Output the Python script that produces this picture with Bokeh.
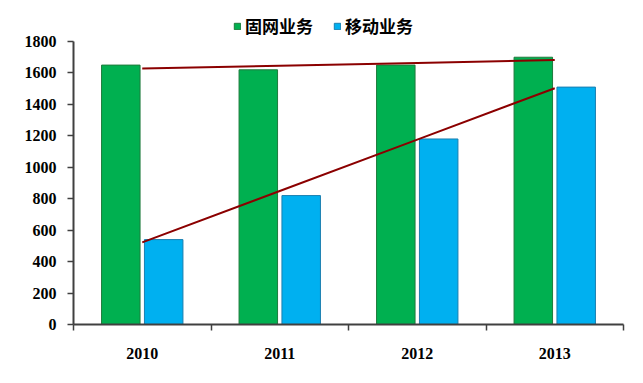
import numpy as np
from bokeh.plotting import figure
from bokeh.models import ColumnDataSource, Range1d, FixedTicker, Legend, LegendItem
from bokeh.embed import file_html
from bokeh.resources import INLINE

categories = ["2010", "2011", "2012", "2013"]
fixed_line = [1650, 1620, 1650, 1700]     # 固网业务
mobile = [540, 820, 1180, 1510]           # 移动业务
y_ticks = [0, 200, 400, 600, 800, 1000, 1200, 1400, 1600, 1800]

GREEN = "#00B050"
BLUE = "#00B0F0"
TREND = "#8B0000"
AXIS = "#404040"

idx = np.arange(len(categories))
centers = idx + 0.5
off = 0.156
bw = 0.28

# frame spans full height above the axis so the legend fits inside it;
# the visible axis is limited to 0..1800
frame_h = 324
axis_h = 283
y_top = 1800 * frame_h / axis_h

p = figure(width=627, height=367, output_backend="svg", toolbar_location=None,
           x_range=Range1d(0, len(categories)), y_range=Range1d(0, y_top),
           min_border_left=73, min_border_right=4, min_border_top=0, min_border_bottom=367 - frame_h)
p.outline_line_color = None
p.xgrid.visible = False
p.ygrid.visible = False
p.background_fill_color = "white"
p.border_fill_color = "white"

src = ColumnDataSource(dict(xg=centers - off, xb=centers + off, g=fixed_line, b=mobile))
rg = p.vbar(x="xg", top="g", width=bw, source=src, fill_color=GREEN, line_color="#1E7A3C", line_width=1)
rb = p.vbar(x="xb", top="b", width=bw, source=src, fill_color=BLUE, line_color="#1A7FB0", line_width=1)

# linear trendlines (like Excel trendline) from the series
kg = np.polyfit(idx, fixed_line, 1)
kb = np.polyfit(idx, mobile, 1)
p.line(centers, np.polyval(kg, idx), line_color=TREND, line_width=2)
p.line(centers, np.polyval(kb, idx), line_color=TREND, line_width=2)

# x axis: labels at centers, ticks at category boundaries
xa = p.xaxis[0]
xa.ticker = FixedTicker(ticks=list(centers), minor_ticks=list(range(len(categories) + 1)))
xa.major_label_overrides = {float(c): lab for c, lab in zip(centers, categories)}
xa.major_tick_line_color = None
xa.major_tick_out = 0
xa.major_tick_in = 0
xa.minor_tick_out = 6
xa.minor_tick_in = 0
xa.minor_tick_line_color = AXIS
xa.minor_tick_line_width = 1.5
xa.axis_line_color = AXIS
xa.axis_line_width = 2
xa.major_label_text_font = "Liberation Serif"
xa.major_label_text_font_style = "bold"
xa.major_label_text_font_size = "16px"
xa.major_label_text_color = "black"
xa.major_label_standoff = 17

ya = p.yaxis[0]
ya.ticker = FixedTicker(ticks=y_ticks)
ya.bounds = (0, 1800)
ya.minor_tick_line_color = None
ya.major_tick_out = 6
ya.major_tick_in = 0
ya.major_tick_line_color = AXIS
ya.major_tick_line_width = 1.5
ya.axis_line_color = AXIS
ya.axis_line_width = 2
ya.major_label_text_font = "Liberation Serif"
ya.major_label_text_font_style = "bold"
ya.major_label_text_font_size = "16px"
ya.major_label_text_color = "black"
ya.major_label_standoff = 11

legend = Legend(items=[LegendItem(label="固网业务", renderers=[rg]),
                       LegendItem(label="移动业务", renderers=[rb])],
                orientation="horizontal", location=(160, 286),
                label_text_font="Noto Sans CJK SC", label_text_font_style="bold",
                label_text_font_size="17px", label_text_color="black",
                glyph_width=8, glyph_height=8, label_standoff=4, spacing=20,
                padding=0, margin=0, border_line_color=None, background_fill_alpha=0)
p.add_layout(legend, "center")

open("out.html", "w").write(file_html(p, INLINE))
